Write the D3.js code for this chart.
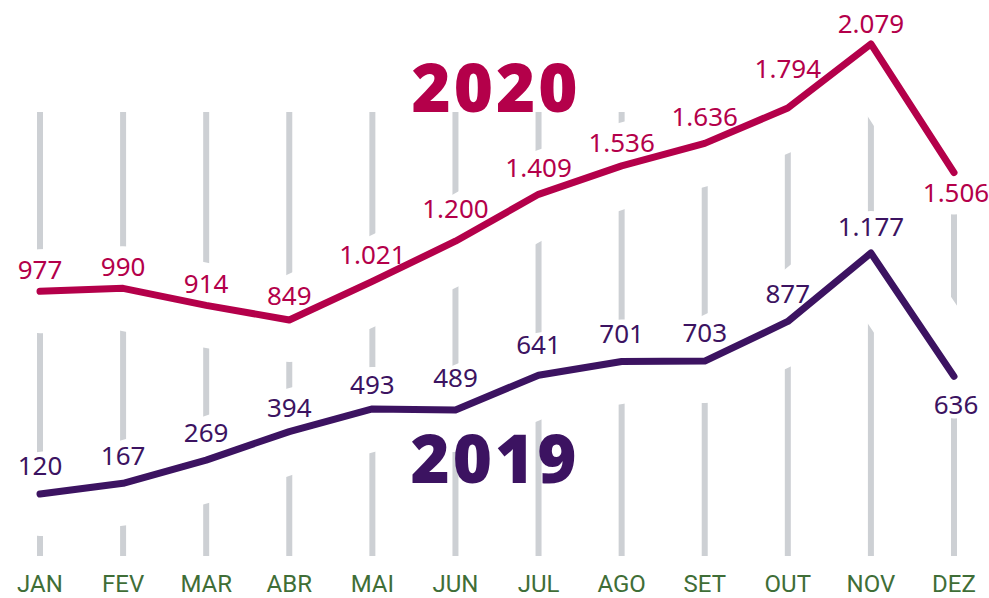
<!DOCTYPE html>
<html>
<head>
<meta charset="utf-8">
<script src="https://cdn.jsdelivr.net/npm/d3@7/dist/d3.min.js"></script>
<style>
  html, body { margin: 0; padding: 0; background: #ffffff; }
  svg { display: block; }
</style>
</head>
<body>
<script>
// ---- data ----
const months = ["JAN","FEV","MAR","ABR","MAI","JUN","JUL","AGO","SET","OUT","NOV","DEZ"];
const values2020 = [977, 990, 914, 849, 1021, 1200, 1409, 1536, 1636, 1794, 2079, 1506];
const values2019 = [120, 167, 269, 394, 493, 489, 641, 701, 703, 877, 1177, 636];
const labels2020 = ["977","990","914","849","1.021","1.200","1.409","1.536","1.636","1.794","2.079","1.506"];
const labels2019 = ["120","167","269","394","493","489","641","701","703","877","1.177","636"];
const seriesNames = ["2020", "2019"];

// label nudges (layout, not data): baseline offset from the point
const dy2020 = [-12, -12, -12, -15, -17, -23, -17, -14, -17, -30, -11, 29];
const dy2019 = [-19, -18, -18, -15, -15, -23, -21, -19, -19, -18, -17, 38];

const W = 989, H = 598;
const col2020 = "#b4004a", col2019 = "#3c1361", colGrid = "#cdd0d4", colMonth = "#3f6e37";

const svg = d3.select("body").append("svg").attr("width", W).attr("height", H);

const x = d3.scalePoint().domain(months).range([40, 954]).padding(0);
const y20 = d3.scaleLinear().domain([0, 2000]).range([510.5, 510.5 - 0.2244 * 2000]);
const y19 = d3.scaleLinear().domain([0, 2000]).range([521.4, 521.4 - 0.228 * 2000]);

// grid
svg.append("g").selectAll("line").data(months).join("line")
  .attr("x1", d => x(d)).attr("x2", d => x(d))
  .attr("y1", 112).attr("y2", 556)
  .attr("stroke", colGrid).attr("stroke-width", 6);

const line20 = d3.line().x((d, i) => x(months[i])).y(d => y20(d));
const line19 = d3.line().x((d, i) => x(months[i])).y(d => y19(d));

// white halos
[[line20, values2020], [line19, values2019]].forEach(([ln, vals]) => {
  svg.append("path").attr("d", ln(vals))
    .attr("fill", "none").attr("stroke", "#ffffff").attr("stroke-width", 84)
    .attr("stroke-linejoin", "round").attr("stroke-linecap", "round");
});

// lines
svg.append("path").attr("d", line20(values2020))
  .attr("fill", "none").attr("stroke", col2020).attr("stroke-width", 7)
  .attr("stroke-linejoin", "round").attr("stroke-linecap", "round");
svg.append("path").attr("d", line19(values2019))
  .attr("fill", "none").attr("stroke", col2019).attr("stroke-width", 7)
  .attr("stroke-linejoin", "round").attr("stroke-linecap", "round");

// value labels
const font = "'Noto Sans', 'Open Sans', sans-serif";
svg.append("g").selectAll("text").data(values2020).join("text")
  .attr("x", (d, i) => x(months[i]) + (i === 11 ? 2 : 0))
  .attr("y", (d, i) => y20(d) + dy2020[i])
  .attr("text-anchor", "middle")
  .attr("font-family", font).attr("font-size", 26)
  .attr("fill", col2020)
  .text((d, i) => labels2020[i]);

svg.append("g").selectAll("text").data(values2019).join("text")
  .attr("x", (d, i) => x(months[i]) + (i === 11 ? 2 : 0))
  .attr("y", (d, i) => y19(d) + dy2019[i])
  .attr("text-anchor", "middle")
  .attr("font-family", font).attr("font-size", 26)
  .attr("fill", col2019)
  .text((d, i) => labels2019[i]);

// month labels
svg.append("g").selectAll("text").data(months).join("text")
  .attr("x", d => x(d)).attr("y", 592)
  .attr("text-anchor", "middle")
  .attr("font-family", "Roboto, 'Noto Sans', sans-serif").attr("font-size", 24)
  .attr("fill", colMonth)
  .text(d => d);

// series titles
svg.append("text").attr("x", 496).attr("y", 112)
  .attr("text-anchor", "middle")
  .attr("font-family", "'Open Sans', sans-serif").attr("font-weight", 800)
  .attr("font-size", 67).attr("letter-spacing", 3).attr("fill", col2020)
  .text(seriesNames[0]);
svg.append("text").attr("x", 495).attr("y", 483)
  .attr("text-anchor", "middle")
  .attr("font-family", "'Open Sans', sans-serif").attr("font-weight", 800)
  .attr("font-size", 67).attr("letter-spacing", 3).attr("fill", col2019)
  .text(seriesNames[1]);
</script>
</body>
</html>
